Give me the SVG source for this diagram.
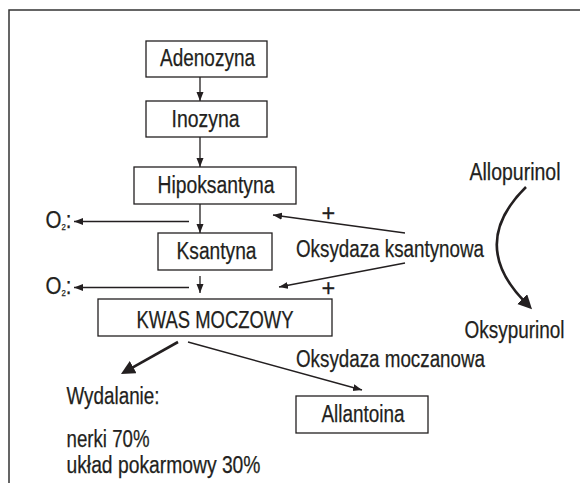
<svg xmlns="http://www.w3.org/2000/svg" width="580" height="483" viewBox="0 0 580 483">
<style>
text{font-family:"Liberation Sans",Arial,sans-serif;font-size:23.5px;fill:#231f20;stroke:#231f20;stroke-width:0.25}
.box{fill:#fff;stroke:#231f20;stroke-width:1.3}
.ln{fill:none;stroke:#231f20;stroke-width:1.3;marker-end:url(#ah)}
.thick{fill:none;stroke:#231f20;stroke-width:2.6;marker-end:url(#big)}
.frame{fill:none;stroke:#333;stroke-width:1.5}
</style>
<defs>
<marker id="ah" markerUnits="userSpaceOnUse" markerWidth="10" markerHeight="8" refX="9" refY="3.5" orient="auto"><path d="M0,0 L9,3.5 L0,7 z" fill="#231f20"/></marker>
<marker id="big" markerUnits="userSpaceOnUse" markerWidth="16" markerHeight="16" refX="4" refY="7" orient="auto"><path d="M0,0 L14,7 L0,14 z" fill="#231f20"/></marker>
</defs>
<rect width="580" height="483" fill="#fff"/>
<path class="frame" d="M9,483 V10 H580"/>
<g id="connectors">
<line class="ln" x1="200" y1="77" x2="200" y2="101"/>
<line class="ln" x1="200" y1="137" x2="200" y2="167"/>
<line class="ln" x1="200" y1="204" x2="200" y2="233"/>
<line class="ln" x1="200" y1="276" x2="200" y2="293"/>
<line class="ln" x1="189" y1="221.5" x2="74" y2="221.5"/>
<line class="ln" x1="189" y1="287.5" x2="74" y2="287.5"/>
<line class="ln" x1="405" y1="233" x2="273" y2="215"/>
<line class="ln" x1="405" y1="263" x2="279" y2="287"/>
<line class="ln" x1="188" y1="342" x2="362" y2="390"/>
<line class="thick" x1="178" y1="342" x2="129.7" y2="369.1"/>
<path class="thick" d="M526,187 Q468,244 525,302"/>
<text x="321.5" y="220.5">+</text>
<text x="321.5" y="296">+</text>
</g>
<g id="adenozyna"><rect class="box" x="146" y="41" width="121" height="36"/><text x="160" y="65.5" textLength="95" lengthAdjust="spacingAndGlyphs">Adenozyna</text></g>
<g id="inozyna"><rect class="box" x="146" y="101" width="121" height="36"/><text x="171.5" y="126.5" textLength="68" lengthAdjust="spacingAndGlyphs">Inozyna</text></g>
<g id="hipoksantyna"><rect class="box" x="134" y="167" width="162" height="37"/><text x="157.5" y="192.5" textLength="117" lengthAdjust="spacingAndGlyphs">Hipoksantyna</text></g>
<g id="ksantyna"><rect class="box" x="158" y="233" width="114" height="37"/><text x="176.5" y="259" textLength="80" lengthAdjust="spacingAndGlyphs">Ksantyna</text></g>
<g id="kwas"><rect class="box" x="98" y="299" width="234" height="37"/><text x="136.5" y="327.5" textLength="157" lengthAdjust="spacingAndGlyphs">KWAS MOCZOWY</text></g>
<g id="allantoina"><rect class="box" x="296" y="396" width="132" height="37"/><text x="321.5" y="422" textLength="83" lengthAdjust="spacingAndGlyphs">Allantoina</text></g>
<g id="o2a"><text x="45.5" y="227.5" textLength="26" lengthAdjust="spacingAndGlyphs">O<tspan font-size="9" dy="2">2</tspan><tspan dy="-2">:</tspan></text></g>
<g id="o2b"><text x="45.5" y="294" textLength="26" lengthAdjust="spacingAndGlyphs">O<tspan font-size="9" dy="2">2</tspan><tspan dy="-2">:</tspan></text></g>
<g id="oksydaza-ksantynowa"><text x="296" y="256.5" textLength="188" lengthAdjust="spacingAndGlyphs">Oksydaza ksantynowa</text></g>
<g id="oksydaza-moczanowa"><text x="296" y="366.5" textLength="189" lengthAdjust="spacingAndGlyphs">Oksydaza moczanowa</text></g>
<g id="allopurinol"><text x="469.5" y="179.5" textLength="91" lengthAdjust="spacingAndGlyphs">Allopurinol</text></g>
<g id="oksypurinol"><text x="464.5" y="337.5" textLength="100" lengthAdjust="spacingAndGlyphs">Oksypurinol</text></g>
<g id="wydalanie">
<text x="66.5" y="403.5" textLength="93" lengthAdjust="spacingAndGlyphs">Wydalanie:</text>
<text x="66.5" y="446.5" textLength="83" lengthAdjust="spacingAndGlyphs">nerki 70%</text>
<text x="66.5" y="473" textLength="194" lengthAdjust="spacingAndGlyphs">układ pokarmowy 30%</text>
</g>
</svg>
